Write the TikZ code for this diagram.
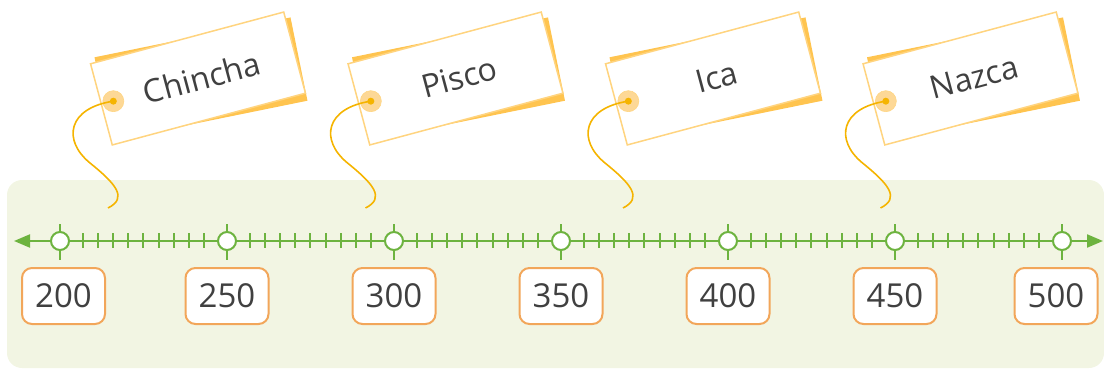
\documentclass[tikz,border=0pt]{standalone}
\usepackage{fontspec}
\setmainfont{Open Sans}
\usetikzlibrary{arrows.meta}
\definecolor{linegreen}{HTML}{6DB33F}
\definecolor{panelgreen}{HTML}{F2F5E3}
\definecolor{boxorange}{HTML}{F2A65A}
\definecolor{tagorange}{HTML}{FFC44F}
\definecolor{tagedge}{HTML}{FFD47F}
\definecolor{holefill}{HTML}{FDD896}
\definecolor{stringyellow}{HTML}{F5B400}
\definecolor{textgray}{HTML}{404040}
\tikzset{
  numbox/.style={draw=boxorange, line width=2pt, fill=white, rounded corners=10pt,
    minimum width=83pt, minimum height=56pt, inner sep=0pt,
    font=\fontsize{33}{38}\selectfont, text=textgray},
  tagfront/.style={draw=tagedge, line width=1.5pt, fill=white, minimum width=200pt,
    minimum height=84pt, inner sep=0pt, rotate=15,
    font=\fontsize{32}{36}\selectfont, text=textgray},
  tagbehind/.style={fill=tagorange, minimum width=200pt, minimum height=85pt,
    inner sep=0pt, rotate=11.5},
  holering/.style={circle, fill=holefill, draw=tagorange!70, line width=0.6pt,
    minimum size=21pt, inner sep=0pt},
  holedot/.style={circle, fill=stringyellow, minimum size=7pt, inner sep=0pt},
  string/.style={draw=stringyellow, line width=1.6pt},
  axisline/.style={draw=linegreen, line width=2pt},
  tickmark/.style={draw=linegreen, line width=2pt},
  ringmark/.style={circle, draw=linegreen, line width=2pt, fill=white,
    minimum size=18pt, inner sep=0pt}
}
\begin{document}
\begin{tikzpicture}[x=1pt,y=-1pt]
 \useasboundingbox (0,0) rectangle (1104,369);
 \fill[panelgreen, rounded corners=15pt] (7,180) rectangle (1104,368);
 \foreach \name [count=\i from 0] in {Chincha,Pisco,Ica,Nazca} {
   \begin{scope}[xshift=\i*257.5pt]
     \node[tagbehind] (back\i) at (201,79) {};
     \node[tagfront] (tag\i) at (198,78.5) {\hspace*{8pt}\name};
     \path (tag\i.west) -- (tag\i.east) coordinate[pos=0.065] (hole\i);
     \node[holering] (ring\i) at (hole\i) {};
     \coordinate (end\i) at (108,208);
     \draw[string] (hole\i) .. controls (68,108) and (62,140) .. (90,163)
       .. controls (116,184) and (128,198) .. (end\i);
     \node[holedot] (dot\i) at (hole\i) {};
   \end{scope}
 }
 \coordinate (axl) at (14,241);
 \coordinate (axr) at (1103,241);
 \draw[axisline, {Triangle[length=16pt,width=13pt]}-{Triangle[length=16pt,width=13pt]}] (axl) -- (axr);
 \foreach \k in {0,...,5} {
   \foreach \j in {0,...,8} {
     \draw[tickmark] (60+167*\k+23+15.1*\j,233) -- (60+167*\k+23+15.1*\j,248);
   }
 }
 \foreach \x/\v/\s in {60/200/3.5,227/250/0,394/300/0,561/350/0,728/400/0,895/450/0,1062/500/-6} {
   \draw[tickmark] (\x,224) -- (\x,260);
   \node[ringmark] (mark\v) at (\x,241) {};
   \node[numbox] (num\v) at (\x+\s,296) {\v};
 }
\end{tikzpicture}
\end{document}
